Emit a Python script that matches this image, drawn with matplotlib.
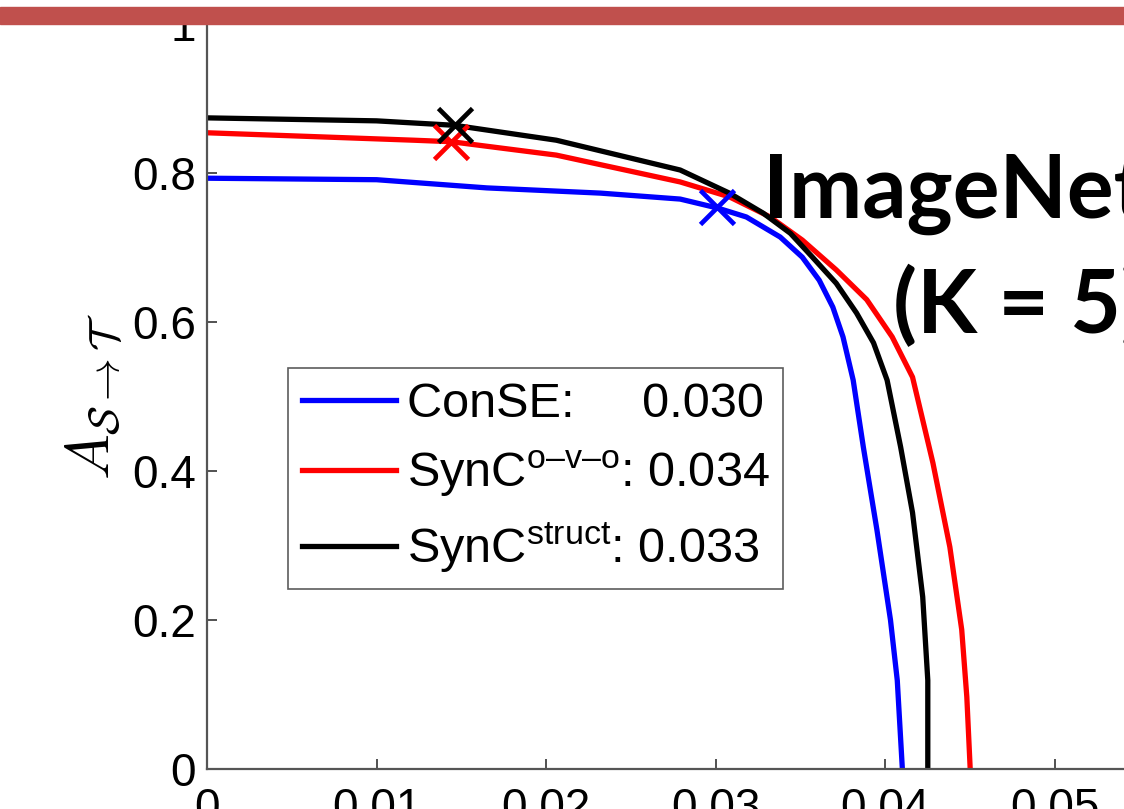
import numpy as np
import matplotlib
matplotlib.use("Agg")
import matplotlib.pyplot as plt
from matplotlib.patches import Rectangle

plt.rcParams['font.family'] = ['Liberation Sans', 'DejaVu Sans']
plt.rcParams['mathtext.fontset'] = 'custom'
plt.rcParams['mathtext.rm'] = 'Liberation Sans'
plt.rcParams['mathtext.it'] = 'Liberation Sans:italic'

# curves (x, y)
conse_x = [0, 0.0100, 0.0165, 0.0232, 0.0279, 0.0301, 0.0318, 0.0338, 0.0351,
           0.0361, 0.0369, 0.0375, 0.0381, 0.0387, 0.0395, 0.0403, 0.0407, 0.0410]
conse_y = [0.793, 0.791, 0.780, 0.773, 0.765, 0.753, 0.741, 0.714, 0.687,
           0.656, 0.620, 0.580, 0.522, 0.432, 0.321, 0.200, 0.119, 0.0]

ovo_x = [0, 0.0122, 0.0144, 0.0206, 0.0279, 0.0308, 0.0332, 0.0351, 0.0371,
         0.0389, 0.0404, 0.0416, 0.0428, 0.0438, 0.0445, 0.0448, 0.0450]
ovo_y = [0.854, 0.844, 0.842, 0.824, 0.788, 0.768, 0.741, 0.710, 0.670,
         0.630, 0.580, 0.526, 0.411, 0.298, 0.187, 0.097, 0.0]

struct_x = [0, 0.0100, 0.0146, 0.0206, 0.0279, 0.0308, 0.0328, 0.0344, 0.0357,
            0.0371, 0.0383, 0.0393, 0.0401, 0.0409, 0.0416, 0.0422, 0.0425, 0.0425]
struct_y = [0.874, 0.870, 0.864, 0.844, 0.804, 0.773, 0.746, 0.719, 0.687,
            0.652, 0.612, 0.572, 0.522, 0.432, 0.344, 0.231, 0.119, 0.0]

# operating points (crosses)
mark_x = [0.0301, 0.0144, 0.0146]
mark_y = [0.754, 0.841, 0.864]

colors = ['#0000ff', '#ff0000', '#000000']
labels = ['ConSE:     0.030',
          'SynC$^{\\mathrm{o\u2013v\u2013o}}$: 0.034',
          'SynC$^{\\mathrm{struct}}$: 0.033']

xticks = [0, 0.01, 0.02, 0.03, 0.04, 0.05, 0.06]
xticklabels = ['0', '0.01', '0.02', '0.03', '0.04', '0.05', '0.06']
yticks = [0, 0.2, 0.4, 0.6, 0.8, 1.0]
yticklabels = ['0', '0.2', '0.4', '0.6', '0.8', '1']

fig = plt.figure(figsize=(11.24, 8.09), dpi=100)
ax = fig.add_axes([207 / 1124, 1 - 769 / 809, 1017.6 / 1124, 745 / 809])

series = [(conse_x, conse_y), (ovo_x, ovo_y), (struct_x, struct_y)]
for (xs, ys), c, lab in zip(series, colors, labels):
    ax.plot(xs, ys, color=c, lw=3.8, label=lab, solid_joinstyle='round')
for mx, my, c in zip(mark_x, mark_y, colors):
    ax.plot(mx, my, marker='x', color=c, ms=24, mew=3.4, ls='none')

ax.set_xlim(0, 0.06)
ax.set_ylim(0, 1)
ax.set_xticks(xticks)
ax.set_xticklabels(xticklabels)
ax.set_yticks(yticks)
ax.set_yticklabels(yticklabels)
ax.tick_params(direction='in', length=7, width=1.2, color='#333333',
               labelsize=33)
ax.tick_params(axis='x', pad=13)
ax.tick_params(axis='y', pad=8)
for s in ['top', 'right']:
    ax.spines[s].set_visible(False)
for s in ['left', 'bottom']:
    ax.spines[s].set_color('#555555')
    ax.spines[s].set_linewidth(1.6)

ax.set_ylabel(r'$A_{\mathcal{S}\rightarrow\mathcal{T}}$', fontsize=44,
              math_fontfamily='cm', labelpad=6)

leg = ax.legend(loc='upper left', bbox_to_anchor=(81 / 1017.6, (769 - 368) / 745),
                fontsize=35, frameon=True, fancybox=False, handlelength=1.95,
                handletextpad=0.22, borderpad=0.28, labelspacing=0.45,
                borderaxespad=0)
leg.get_frame().set_edgecolor('#333333')
leg.get_frame().set_linewidth(1.2)

fig.text(763 / 1124, 1 - 218 / 809, 'ImageNet', fontsize=63, fontweight='bold',
         family='Lato', ha='left', va='baseline')
fig.text(893 / 1124, 1 - 333 / 809, '(K = 5)', fontsize=63, fontweight='bold',
         family='Lato', ha='left', va='baseline')

# red title bar from the slide
fig.add_artist(Rectangle((0, 1 - 24 / 809), 1, 16.5 / 809,
                         transform=fig.transFigure, color='#c0504d', zorder=10))

fig.savefig('out.png', dpi=100)
